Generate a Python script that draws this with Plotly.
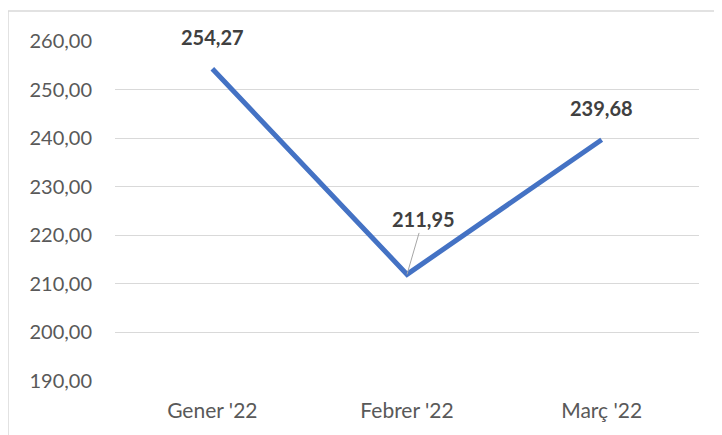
import plotly.graph_objects as go

categories = ["Gener '22", "Febrer '22", "Març '22"]
values = [254.27, 211.95, 239.68]
labels = ["254,27", "211,95", "239,68"]
y_ticks = [190, 200, 210, 220, 230, 240, 250, 260]

fig = go.Figure()
fig.add_trace(go.Scatter(
    x=categories, y=values, mode="lines",
    line=dict(color="#4472C4", width=5),
    hoverinfo="skip", showlegend=False,
))

annotations = []
for i, (c, v, t) in enumerate(zip(categories, values, labels)):
    if i == 1:
        annotations.append(dict(
            x=c, y=v, xref="x", yref="y", text=f"<b>{t}</b>",
            showarrow=True, arrowhead=0, arrowwidth=1, arrowcolor="#A6A6A6",
            ax=16, ay=-55, font=dict(family="Lato", size=20, color="#404040"),
        ))
    else:
        annotations.append(dict(
            x=c, y=v, xref="x", yref="y", text=f"<b>{t}</b>",
            showarrow=False, yshift=32,
            font=dict(family="Lato", size=20, color="#404040"),
        ))

fig.update_layout(
    width=722, height=435,
    margin=dict(l=107, r=31, t=33, b=62),
    paper_bgcolor="white", plot_bgcolor="white",
    separators=",.",
    font=dict(family="Lato", size=20, color="#595959"),
    annotations=annotations,
    shapes=[
        dict(type="line", xref="paper", yref="paper", x0=-107/584, x1=1.2, y0=1 + 30/340, y1=1 + 30/340,
             line=dict(color="#D9D9D9", width=1.5)),
        dict(type="line", xref="paper", yref="paper", x0=-107/584, x1=-107/584, y0=-0.3, y1=1 + 30/340,
             line=dict(color="#D9D9D9", width=1.5)),
    ],
    xaxis=dict(
        type="category", range=[-0.5, 2.5], showgrid=False, zeroline=False,
        showline=False, ticks="", ticklabelstandoff=15,
        tickfont=dict(size=21, color="#595959"),
    ),
    yaxis=dict(
        range=[190, 260], tickvals=y_ticks, tickformat=".2f",
        showgrid=True, gridcolor="#D9D9D9", gridwidth=1.3, zeroline=False,
        showline=False, ticks="", ticklabelstandoff=22,
        tickfont=dict(size=20, color="#595959"),
    ),
)

fig.write_html("out.html")
